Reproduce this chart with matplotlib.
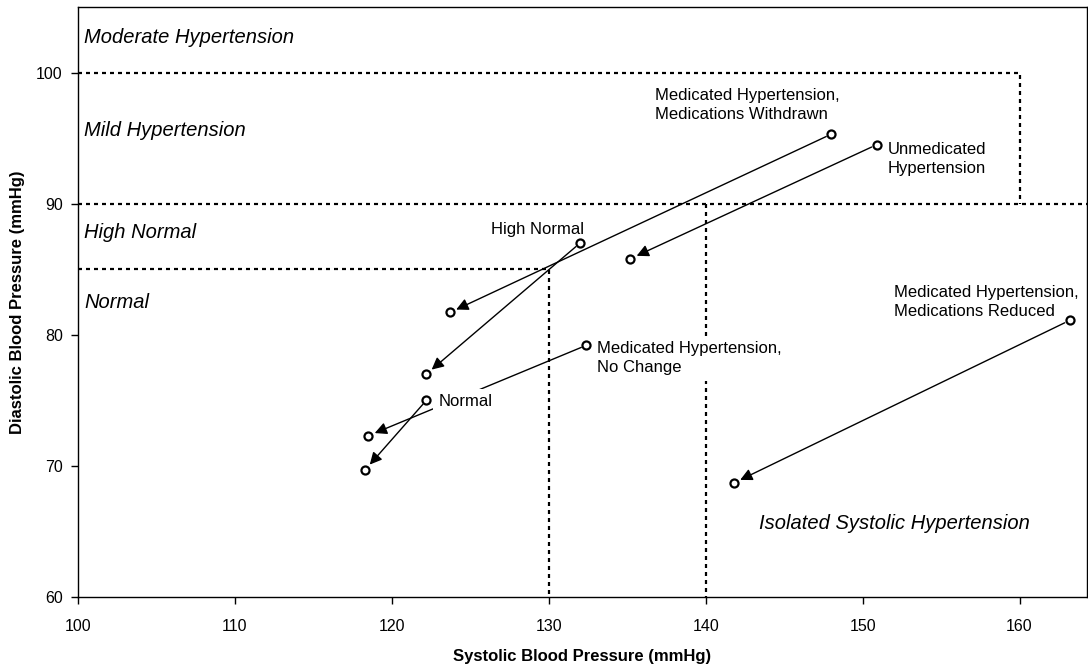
import matplotlib
matplotlib.use("Agg")
import matplotlib.pyplot as plt

plt.rcParams['font.family'] = ['Liberation Sans', 'DejaVu Sans']

# ---- data ----
group_names = ["Medicated Hypertension,\nMedications Withdrawn",
               "Unmedicated\nHypertension",
               "High Normal",
               "Medicated Hypertension,\nNo Change",
               "Normal",
               "Medicated Hypertension,\nMedications Reduced"]
start_sys = [148.0, 150.9, 132.0, 132.4, 122.2, 163.2]
start_dia = [95.3, 94.5, 87.0, 79.2, 75.0, 81.1]
end_sys = [123.7, 135.2, 122.2, 118.5, 118.3, 141.8]
end_dia = [81.7, 85.8, 77.0, 72.3, 69.7, 68.7]
label_x = [136.8, 151.6, 126.3, 133.1, 123.0, 152.0]
label_y = [97.5, 93.4, 88.0, 78.2, 74.9, 82.5]
label_bg = [False, False, False, True, True, False]

region_names = ["Moderate Hypertension", "Mild Hypertension", "High Normal",
                "Normal", "Isolated Systolic Hypertension"]
region_x = [100.4, 100.4, 100.4, 100.4, 143.4]
region_y = [102.7, 95.6, 87.8, 82.5, 65.6]

# boundary lines (systolic, diastolic) polylines
boundaries = [
    ([100, 160, 160], [100, 100, 90]),
    ([100, 164.3], [90, 90]),
    ([100, 130, 130], [85, 85, 60]),
    ([140, 140], [90, 60]),
]

xticks = [100, 110, 120, 130, 140, 150, 160]
yticks = [60, 70, 80, 90, 100]

# ---- figure ----
fig = plt.figure(figsize=(10.88, 6.64), dpi=100)
ax = fig.add_axes([78/1088, 67/664, 1009/1088, 590/664])
ax.set_xlim(100, 164.3)
ax.set_ylim(60, 105)

for bx, by in boundaries:
    ax.plot(bx, by, color='black', lw=1.6, linestyle=(0, (1.8, 1.8)), zorder=1,
            dash_capstyle='butt')

for sx, sy, ex, ey in zip(start_sys, start_dia, end_sys, end_dia):
    ax.annotate("", xy=(ex, ey), xytext=(sx, sy),
                arrowprops=dict(arrowstyle='-|>', color='black', lw=1.0,
                                mutation_scale=18, shrinkA=4, shrinkB=5),
                zorder=2)
ax.plot(start_sys, start_dia, 'o', ms=5.8, mfc='white', mec='black', mew=1.6,
        ls='none', zorder=4)
ax.plot(end_sys, end_dia, 'o', ms=5.8, mfc='white', mec='black', mew=1.6,
        ls='none', zorder=4)

for name, lx, ly, bg in zip(group_names, label_x, label_y, label_bg):
    kw = {}
    if bg:
        kw['bbox'] = dict(facecolor='white', edgecolor='none', pad=4)
    ax.text(lx, ly, name, ha='left', va='center', fontsize=12,
            linespacing=1.35, zorder=3, **kw)

for name, rx, ry in zip(region_names, region_x, region_y):
    ax.text(rx, ry, name, ha='left', va='center', fontsize=14.5,
            style='italic', zorder=3)

ax.set_xticks(xticks)
ax.set_yticks(yticks)
ax.tick_params(axis='x', length=5, width=1, pad=11, labelsize=11.5)
ax.tick_params(axis='y', length=5, width=1, pad=6, labelsize=11.5)
for s in ax.spines.values():
    s.set_linewidth(1.0)
    s.set_color('black')

ax.set_xlabel("Systolic Blood Pressure (mmHg)", fontsize=12, fontweight='bold',
              labelpad=11)
ax.set_ylabel("Diastolic Blood Pressure (mmHg)", fontsize=12, fontweight='bold',
              labelpad=8)

fig.savefig("out.png", dpi=100)
